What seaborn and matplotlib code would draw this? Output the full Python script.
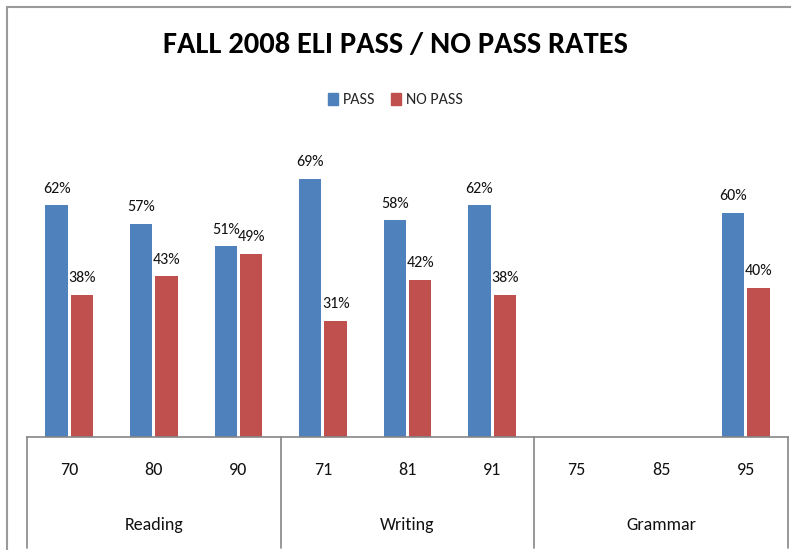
import numpy as np
import pandas as pd
import matplotlib
matplotlib.use("Agg")
import matplotlib.pyplot as plt
import seaborn as sns
from matplotlib.patches import Rectangle
from matplotlib.lines import Line2D

sns.set_theme(style="white")
plt.rcParams["font.family"] = ["Carlito", "DejaVu Sans"]

# data
courses = ["70", "80", "90", "71", "81", "91", "75", "85", "95"]
groups = ["Reading", "Writing", "Grammar"]
pass_rate = [0.62, 0.57, 0.51, 0.69, 0.58, 0.62, np.nan, np.nan, 0.60]
no_pass_rate = [0.38, 0.43, 0.49, 0.31, 0.42, 0.38, np.nan, np.nan, 0.40]

df = pd.DataFrame({
    "course": courses * 2,
    "rate": pass_rate + no_pass_rate,
    "status": ["PASS"] * len(courses) + ["NO PASS"] * len(courses),
})

colors = {"PASS": "#4F81BD", "NO PASS": "#C0504D"}

fig = plt.figure(figsize=(7.91, 5.5), dpi=100)
ax = fig.add_axes([27 / 791, 1 - 437 / 550, (788 - 27) / 791, (437 - 138) / 550])

sns.barplot(data=df, x="course", y="rate", hue="status", order=courses,
            hue_order=["PASS", "NO PASS"], palette=colors, width=0.6,
            gap=0.12, saturation=1, linewidth=0, ax=ax, legend=False)

for cont in ax.containers:
    labels = ["" if np.isnan(v) else f"{v:.0%}" for v in cont.datavalues]
    ax.bar_label(cont, labels=labels, padding=7, fontsize=11.5, color="#111111")

ax.set_xlim(-0.5, len(courses) - 0.5)
ax.set_ylim(0, 0.8)
ax.set_xlabel("")
ax.set_ylabel("")
ax.set_yticks([])
ax.set_xticks([])
for s in ["top", "right", "left"]:
    ax.spines[s].set_visible(False)
ax.spines["bottom"].set_color("#868686")
ax.spines["bottom"].set_linewidth(1.2)

# two-level category axis
trans = ax.get_xaxis_transform()
for i, c in enumerate(courses):
    ax.text(i, -0.11, c, transform=trans, ha="center", va="center",
            fontsize=13, color="#111111")
for g, name in enumerate(groups):
    ax.text(g * 3 + 1, -0.295, name, transform=trans, ha="center",
            va="center", fontsize=13, color="#111111")
for xb in [-0.5, 2.5, 5.5, 8.5]:
    ax.add_line(Line2D([xb, xb], [0, -0.37], transform=trans, color="#868686",
                       lw=1.2, clip_on=False))

# outer chart border
fig.patches.append(Rectangle((7 / 791, -0.05), 1.0, 1 - 7 / 550 + 0.05,
                             transform=fig.transFigure, fill=False,
                             edgecolor="#9a9a9a", lw=1.5))

fig.text(0.5, 1 - 45 / 550, "FALL 2008 ELI PASS / NO PASS RATES",
         ha="center", va="center", fontsize=22, fontweight="bold",
         color="#000000")

handles = [Rectangle((0, 0), 1, 1, color=colors[k]) for k in ["PASS", "NO PASS"]]
fig.legend(handles, ["PASS", "NO PASS"], loc="center",
           bbox_to_anchor=(0.5, 1 - 100 / 550), ncol=2, frameon=False,
           fontsize=11.5, handlelength=0.6, handleheight=0.8,
           handletextpad=0.3, columnspacing=1.0)

fig.savefig("out.png", dpi=100)
